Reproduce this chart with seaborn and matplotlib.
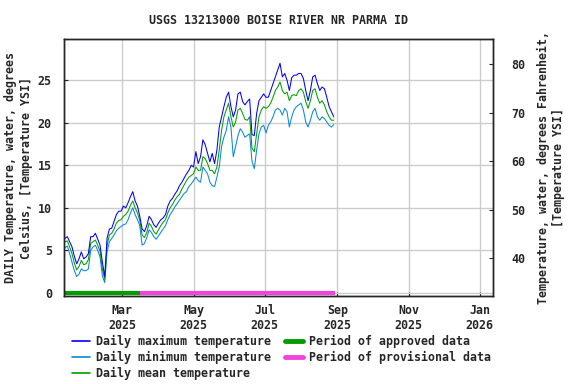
import pandas as pd
import matplotlib
matplotlib.use("Agg")
import matplotlib.pyplot as plt
import seaborn as sns
from matplotlib.lines import Line2D

sns.set_style("ticks")
plt.rcParams['font.family'] = ['DejaVu Sans Mono']
plt.rcParams['font.weight'] = 'bold'
plt.rcParams['font.size'] = 8.4

# daily values, read every 2nd day starting 2025-01-11
start_date = '2025-01-11'
t_max = [6.4, 6.6, 6.0, 5.4, 4.3, 3.4, 4.0, 4.8, 4.0, 4.2, 4.6, 6.6, 6.6, 7.0, 6.3, 5.6,
         3.6, 1.9, 6.4, 7.5, 7.6, 8.4, 9.2, 9.6, 9.6, 10.2, 10.0, 10.6, 11.3, 11.9, 10.8, 10.2,
         9.0, 7.5, 7.2, 7.9, 9.0, 8.6, 8.0, 7.7, 8.2, 8.6, 8.8, 9.2, 10.2, 10.8, 11.1, 11.6,
         12.0, 12.6, 13.0, 13.5, 14.0, 14.4, 15.0, 14.8, 16.6, 15.2, 16.0, 18.0, 17.4, 16.4,
         15.4, 16.4, 15.2, 16.8, 19.5, 20.7, 21.9, 23.0, 23.6, 21.9, 20.7, 21.5, 23.4, 23.6,
         22.5, 22.1, 22.5, 22.8, 18.6, 18.5, 21.1, 22.6, 23.0, 23.4, 23.0, 23.0, 23.8, 24.6,
         25.4, 26.2, 27.0, 25.4, 25.8, 25.0, 23.8, 25.3, 25.6, 25.6, 25.8, 25.8, 25.2, 23.8,
         22.6, 23.8, 25.4, 25.6, 24.6, 23.8, 24.2, 24.0, 23.0, 21.9, 21.3, 20.7]
t_mean = [6.0, 6.1, 5.4, 4.6, 3.5, 2.7, 3.1, 3.8, 3.3, 3.4, 3.9, 5.8, 6.0, 6.2, 5.6, 4.9,
          2.8, 1.6, 5.6, 6.8, 7.0, 7.5, 8.2, 8.5, 8.6, 9.0, 9.2, 9.6, 10.3, 10.8, 10.0, 9.4,
          8.5, 6.8, 6.5, 7.1, 8.2, 7.8, 7.2, 6.9, 7.4, 7.9, 8.3, 8.6, 9.4, 10.0, 10.4, 10.9,
          11.3, 11.6, 12.2, 12.7, 13.2, 13.6, 13.8, 14.0, 14.8, 14.4, 14.4, 16.0, 15.8, 15.2,
          14.4, 14.4, 14.0, 14.8, 16.8, 19.1, 20.7, 21.5, 22.3, 20.7, 19.5, 20.1, 21.5, 21.7,
          21.1, 20.4, 20.3, 20.7, 17.0, 16.6, 18.7, 20.7, 21.5, 21.9, 21.7, 21.9, 22.3, 23.0,
          23.8, 24.2, 24.8, 23.8, 23.4, 23.6, 22.6, 23.2, 23.3, 23.2, 23.8, 24.0, 23.6, 22.5,
          21.7, 22.6, 23.8, 24.0, 23.0, 22.3, 22.6, 22.1, 21.3, 20.7, 20.3, 20.3]
t_min = [5.3, 5.5, 4.6, 3.6, 2.6, 1.9, 2.2, 2.8, 2.6, 2.6, 2.8, 5.0, 5.4, 5.6, 5.0, 4.2,
         2.0, 1.2, 4.8, 6.0, 6.4, 6.8, 7.3, 7.6, 7.8, 8.0, 8.1, 8.6, 9.4, 10.0, 9.2, 8.6,
         7.9, 5.6, 5.8, 6.5, 7.4, 7.1, 6.6, 6.3, 6.7, 7.1, 7.5, 7.9, 8.6, 9.2, 9.6, 10.1,
         10.5, 10.9, 11.3, 11.7, 11.9, 12.5, 12.8, 13.2, 13.6, 13.2, 13.0, 14.8, 14.4, 14.0,
         13.0, 12.6, 12.5, 13.6, 14.8, 17.2, 18.3, 19.1, 20.7, 19.5, 16.0, 17.2, 18.5, 19.3,
         18.9, 18.3, 18.5, 18.7, 15.5, 14.6, 16.8, 18.7, 19.5, 19.7, 18.8, 19.7, 20.1, 20.7,
         21.5, 21.7, 21.5, 20.9, 21.7, 21.3, 19.5, 20.7, 21.5, 21.9, 22.1, 22.3, 21.5, 20.1,
         19.5, 20.3, 21.3, 21.7, 20.7, 20.3, 20.7, 20.5, 20.1, 19.7, 19.5, 19.8]

# data periods
approved_period = ['2025-01-10', '2025-03-16']
provisional_period = ['2025-03-16', '2025-08-30']

tick_dates = ['2025-03-01', '2025-05-01', '2025-07-01', '2025-09-01', '2025-11-01', '2026-01-01']
tick_labels = ['Mar\n2025', 'May\n2025', 'Jul\n2025', 'Sep\n2025', 'Nov\n2025', 'Jan\n2026']

c_max = '#0000ff'
c_min = '#0a88d8'
c_mean = '#00a000'
c_appr = '#009c00'
c_prov = '#f044dc'

df = pd.DataFrame({
    'date': pd.date_range(start_date, periods=len(t_max), freq='2D'),
    'tmax': t_max, 'tmean': t_mean, 'tmin': t_min,
})

fig = plt.figure(figsize=(5.76, 3.84), dpi=100)
ax = fig.add_axes([64.3 / 576, 1 - 296 / 384, 429 / 576, 256.7 / 384])

ax.grid(True, color='#cccccc', lw=1.0)
ax.set_axisbelow(True)

sns.lineplot(data=df, x='date', y='tmin', color=c_min, lw=0.75, ax=ax)
sns.lineplot(data=df, x='date', y='tmean', color=c_mean, lw=0.75, ax=ax)
sns.lineplot(data=df, x='date', y='tmax', color=c_max, lw=0.75, ax=ax)

ax.plot(pd.to_datetime(approved_period), [0, 0], color=c_appr, lw=3, solid_capstyle='butt')
ax.plot(pd.to_datetime(provisional_period), [0, 0], color=c_prov, lw=3, solid_capstyle='butt')

ax.set_xlim(pd.Timestamp('2025-01-10 10:00'), pd.Timestamp('2026-01-12 12:00'))
ax.set_ylim(-0.38, 29.82)
ax.set_xticks(pd.to_datetime(tick_dates))
ax.set_xticklabels(tick_labels)
ax.set_yticks([0, 5, 10, 15, 20, 25])
ax.set_xlabel('')
ax.set_ylabel('')
ax.tick_params(axis='both', direction='in', length=3, width=0.8, labelsize=8.4)
ax.tick_params(axis='y', pad=9)
ax.tick_params(axis='x', pad=6)
for s in ax.spines.values():
    s.set_color('black')
    s.set_linewidth(1.0)

ax2 = ax.twinx()
ax2.set_ylim(32.2, 85.15)
ax2.set_yticks([40, 50, 60, 70, 80])
ax2.tick_params(axis='y', direction='in', length=3, width=0.8, labelsize=8.4, pad=13)
for s in ax2.spines.values():
    s.set_linewidth(1.0)

fig.text(278.8 / 576, 1 - 20 / 384, 'USGS 13213000 BOISE RIVER NR PARMA ID',
         ha='center', va='center', fontsize=8.4, fontweight='bold')
fig.text(18.5 / 576, 0.5 * ((1 - 39.3 / 384) + (1 - 296 / 384)),
         'DAILY Temperature, water, degrees\nCelsius, [Temperature YSI]',
         rotation=90, ha='center', va='center', multialignment='center',
         fontsize=8.4, fontweight='bold')
fig.text(550.5 / 576, 0.5 * ((1 - 39.3 / 384) + (1 - 296 / 384)),
         'Temperature, water, degrees Fahrenheit,\n[Temperature YSI]',
         rotation=90, ha='center', va='center', multialignment='center',
         fontsize=8.4, fontweight='bold')

handles = [
    Line2D([], [], color=c_max, lw=1.2),
    Line2D([], [], color=c_min, lw=1.2),
    Line2D([], [], color=c_mean, lw=1.2),
    Line2D([], [], color=c_appr, lw=3.5),
    Line2D([], [], color=c_prov, lw=3.5),
]
labels = ['Daily maximum temperature', 'Daily minimum temperature', 'Daily mean temperature',
          'Period of approved data', 'Period of provisional data']
fig.legend(handles, labels, ncol=2, loc='upper left',
           bbox_to_anchor=(72 / 576, 1 - 335 / 384), frameon=False,
           borderpad=0, borderaxespad=0, handlelength=1.55, handletextpad=0.5,
           columnspacing=1.2, labelspacing=0.25, prop={'size': 8.4, 'weight': 'bold'})

fig.savefig('out.png', dpi=100)
